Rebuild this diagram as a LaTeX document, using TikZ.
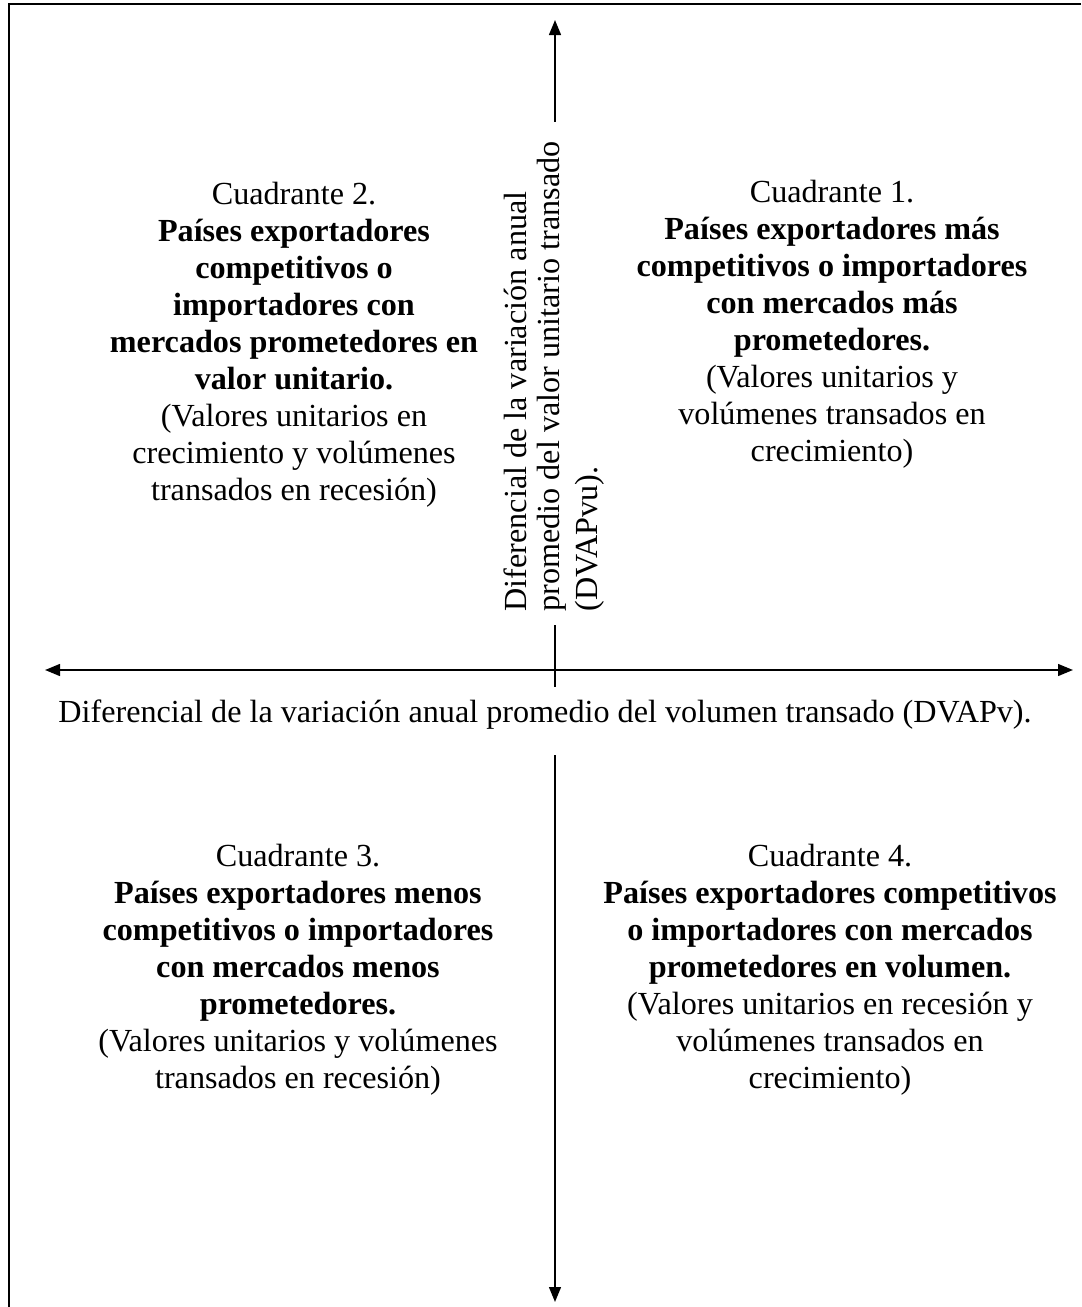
\documentclass[tikz,border=0pt]{standalone}
\usepackage{fontspec}
\setmainfont{Liberation Serif}
\usetikzlibrary{arrows.meta}
\begin{document}
\begin{tikzpicture}[x=0.373pt,y=-0.373pt,
  axis/.style={line width=0.75pt,draw=black},
  tip/.style={-{Triangle[length=5.6pt,width=4.4pt]}},
  frame/.style={line width=0.8pt,draw=black},
  quad/.style={align=center,inner sep=0pt,font=\fontsize{12}{13.8}\selectfont},
  lab/.style={inner sep=0pt,font=\fontsize{12}{13.8}\selectfont},
]
\useasboundingbox (0,0) rectangle (1081,1307);
% frame (top and left)
\coordinate (fTL) at (9,4);
\coordinate (fTR) at (1081,4);
\coordinate (fBL) at (9,1307);
\draw[frame] (fTR) -- (fTL) -- (fBL);
% vertical axis
\coordinate (vTop) at (555,20);
\coordinate (vA) at (555,122);
\coordinate (vB) at (555,625);
\coordinate (vC) at (555,687);
\coordinate (vD) at (555,755);
\coordinate (vBot) at (555,1302);
\draw[axis,tip] (vA) -- (vTop);
\draw[axis] (vB) -- (vC);
\draw[axis,tip] (vD) -- (vBot);
% horizontal axis
\coordinate (hL) at (45,670);
\coordinate (hR) at (1073,670);
\draw[axis,{Triangle[length=5.6pt,width=4.4pt]}-{Triangle[length=5.6pt,width=4.4pt]}] (hL) -- (hR);
% axis labels
\node[lab] (hlab) at (545,715) {Diferencial de la variación anual promedio del volumen transado (DVAPv).};
\node[lab,rotate=90,anchor=west] (v1) at (515,612) {Diferencial de la variación anual};
\node[lab,rotate=90,anchor=west] (v2) at (552,612) {promedio del valor unitario transado};
\node[lab,rotate=90,anchor=west] (v3) at (590,612) {(DVAPvu).};
% quadrants
\node[quad] (q2) at (294,345) {Cuadrante 2.\\
\textbf{Países exportadores}\\
\textbf{competitivos o}\\
\textbf{importadores con}\\
\textbf{mercados prometedores en}\\
\textbf{valor unitario.}\\
(Valores unitarios en\\
crecimiento y volúmenes\\
transados en recesión)};
\node[quad] (q1) at (832,324) {Cuadrante 1.\\
\textbf{Países exportadores más}\\
\textbf{competitivos o importadores}\\
\textbf{con mercados más}\\
\textbf{prometedores.}\\
(Valores unitarios y\\
volúmenes transados en\\
crecimiento)};
\node[quad] (q3) at (298,970) {Cuadrante 3.\\
\textbf{Países exportadores menos}\\
\textbf{competitivos o importadores}\\
\textbf{con mercados menos}\\
\textbf{prometedores.}\\
(Valores unitarios y volúmenes\\
transados en recesión)};
\node[quad] (q4) at (830,970) {Cuadrante 4.\\
\textbf{Países exportadores competitivos}\\
\textbf{o importadores con mercados}\\
\textbf{prometedores en volumen.}\\
(Valores unitarios en recesión y\\
volúmenes transados en\\
crecimiento)};
\end{tikzpicture}
\end{document}
